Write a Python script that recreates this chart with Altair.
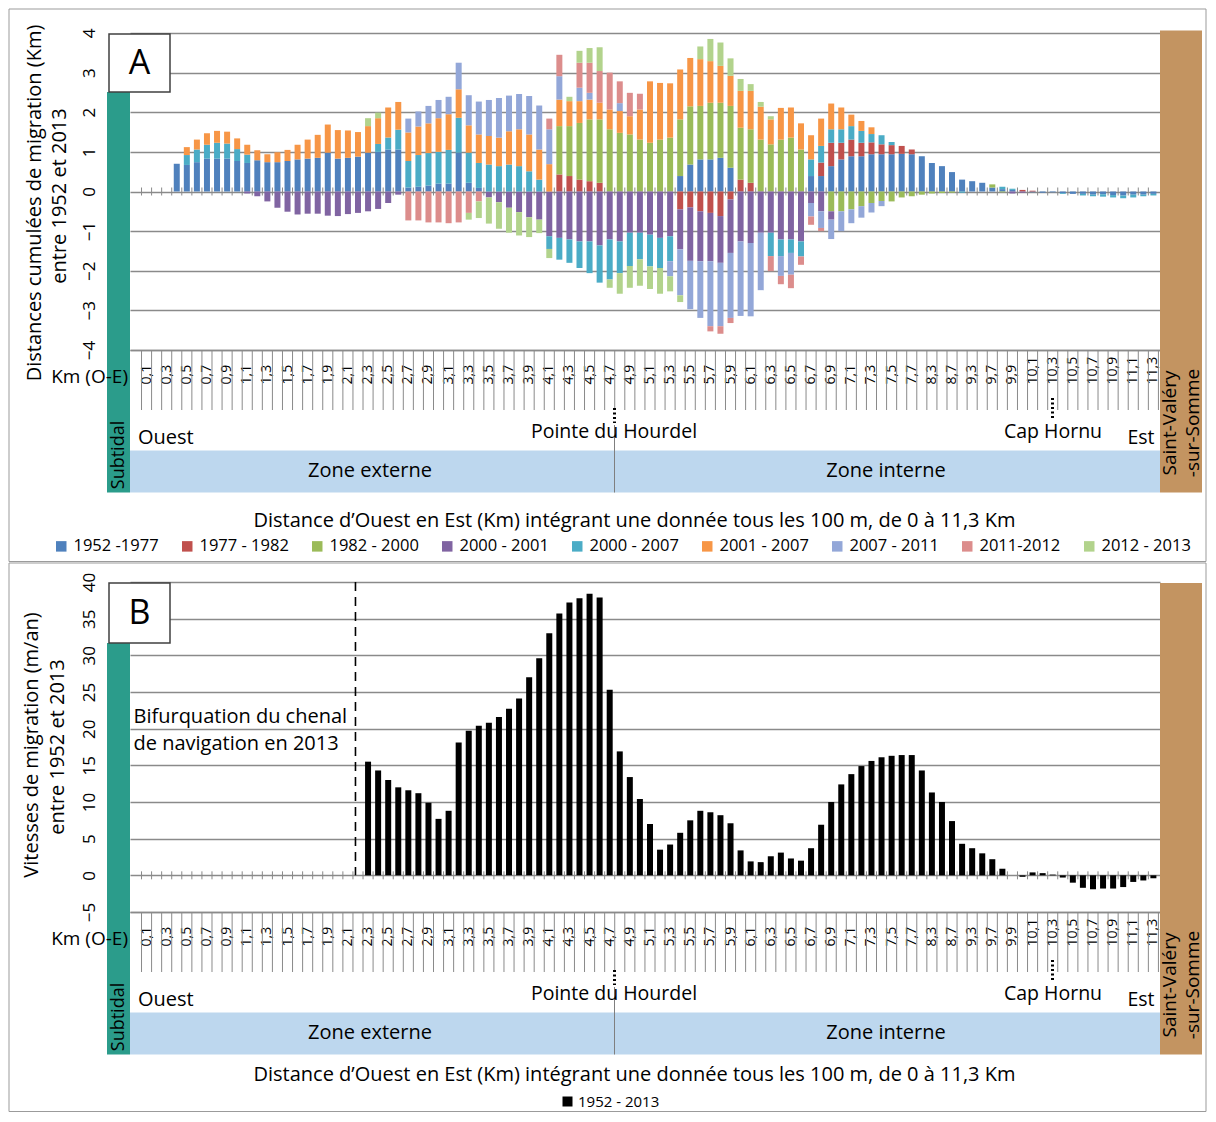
import json
import altair as alt
import pandas as pd

FONT = "Open Sans"
GRID = "#8a8a8a"
FRAME = "#9b9b9b"
TEAL = "#2b9c8b"
BROWN = "#c39461"
ZONE = "#bdd7ee"

# ---------------- categories ----------------
km_values = ([round(0.1 * i, 1) for i in range(1, 78)]
             + [7.9, 8.3, 8.5, 8.7, 9.0, 9.3, 9.5]
             + [round(9.7 + 0.1 * i, 1) for i in range(17)])
km_labels = [f"{v:.1f}".replace(".", ",") for v in km_values]
shown_labels = km_labels[::2]

series_names = ["1952 -1977", "1977 - 1982", "1982 - 2000", "2000 - 2001", "2000 - 2007",
                "2001 - 2007", "2007 - 2011", "2011-2012", "2012 - 2013"]
series_colors = ["#4F81BD", "#C0504D", "#9BBB59", "#8064A2", "#4BACC6",
                 "#F79646", "#93A7D8", "#DC8D8C", "#B2D38C"]

# ---------------- panel A values (Km) ----------------
s_1952_1977 = [0, 0, 0, 0.70, 0.67, 0.74, 0.83, 0.83, 0.83, 0.77,
               0.72, 0.79, 0.74, 0.74, 0.77, 0.81, 0.83, 0.85, 0.98, 0.83,
               0.85, 0.88, 0.98, 1.00, 1.06, 1.06, 0.10, 0.12, 0.15, 0.20,
               0.20, 0.98, 0.22, 0.09, 0, 0, 0, 0, 0, 0,
               0, 0, 0, 0, 0, 0, 0, 0, 0, 0,
               0, 0, 0, 0.39, 0.68, 0.81, 0.81, 0.85, 0.60, 0,
               0, 0, 0, 0, 0, 0, 0.39, 0.39, 0.64, 0.81,
               0.89, 0.89, 0.94, 0.94, 0.94, 0.95, 0.94, 0.89, 0.72, 0.64,
               0.49, 0.30, 0.26, 0.22, 0.10, 0.06, 0.04, 0, -0.02, -0.03,
               -0.02, -0.04, -0.06, -0.06, -0.08, -0.07, -0.09, -0.10, -0.08, -0.08,
               -0.06]
s_1977_1982 = [0, 0, 0, 0, 0, 0, 0, 0, 0, 0,
               0, 0, 0, 0, 0, 0, 0, 0, 0, 0,
               0, 0, 0, 0, 0, 0, 0, 0, 0, 0,
               0, 0, 0, 0, 0, 0, 0, 0, 0, 0,
               0, 0.43, 0.39, 0.30, 0.26, 0.22, 0, 0, 0, 0,
               0, 0, 0, -0.45, -0.40, -0.50, -0.54, -0.62, -0.20, 0.30,
               0.22, 0, 0, 0, 0, 0, 0, 0.34, 0.59, 0.42,
               0.42, 0.34, 0.30, 0.25, 0.23, 0.20, 0.12, 0, 0, 0,
               0, 0, 0, 0, 0, 0, 0, 0.04, 0.02, 0,
               0, 0, 0, 0, 0, 0, 0, 0, 0, 0,
               0]
s_1982_2000 = [0, 0, 0, 0, 0, 0, 0, 0, 0, 0,
               0, 0, 0, 0, 0, 0, 0, 0, 0, 0,
               0, 0, 0, 0, 0, 0, 0, 0, 0, 0,
               0, 0, 0, 0, 0, 0, 0, 0, 0, 0,
               0, 1.22, 1.26, 1.43, 1.56, 1.60, 1.57, 1.48, 1.44, 1.31,
               1.23, 1.31, 1.36, 1.43, 1.47, 1.35, 1.43, 1.39, 1.56, 1.31,
               1.35, 1.31, 1.19, 1.31, 1.36, 1.06, 0, 0, -0.50, -0.50,
               -0.45, -0.37, -0.29, -0.24, -0.25, -0.15, -0.12, -0.08, -0.05, -0.04,
               -0.03, 0, 0, 0, 0.08, -0.02, 0, 0, 0, 0,
               0, 0, 0, 0, 0, 0, 0, 0, 0, 0,
               0]
s_2000_2001 = [0, 0, 0, 0, 0, 0, 0, 0, 0, 0,
               -0.05, -0.12, -0.25, -0.41, -0.51, -0.58, -0.56, -0.56, -0.61, -0.62,
               -0.57, -0.54, -0.50, -0.44, -0.29, -0.08, 0, 0, 0, 0,
               0, 0, 0, 0, -0.15, -0.27, -0.41, -0.52, -0.65, -0.71,
               -1.13, -1.17, -1.21, -1.26, -1.26, -1.36, -1.21, -1.26, -1.04, -1.04,
               -1.09, -1.17, -1.13, -1.01, -1.35, -1.26, -1.22, -1.18, -1.35, -1.26,
               -1.30, -1.04, -1.04, -1.21, -1.21, -1.26, -0.29, -0.50, -0.21, 0,
               0, 0, 0, 0, 0, 0, 0, 0, 0, 0,
               0, 0, 0, 0, 0, 0, -0.05, -0.03, 0, 0,
               0, 0, 0, 0, 0, 0, 0, 0, 0, 0,
               0]
s_2000_2007 = [0, 0, 0, 0, 0.25, 0.32, 0.35, 0.40, 0.38, 0.30,
               0.21, 0, 0, 0, 0, 0, 0, 0, 0, 0,
               0, 0, 0, 0.20, 0.30, 0.50, 0.67, 0.80, 0.82, 0.80,
               0.85, 0.88, 0.76, 0.63, 0.68, 0.64, 0.68, 0.64, 0.51, 0.30,
               -0.32, -0.55, -0.59, -0.67, -0.80, -0.94, -1.01, -0.80, -0.84, -0.67,
               -0.80, -0.76, -0.63, 0, 0, 0, 0, 0, 0, 0,
               0, 0, -0.59, -0.42, -0.34, -0.38, 0.42, 0.42, 0.34, 0.34,
               0.34, 0.30, 0.21, 0.23, 0.08, 0, 0, 0, 0, 0,
               0, -0.03, 0, 0, 0, 0.06, 0.03, 0, 0, 0,
               0, -0.02, 0, -0.04, -0.04, -0.06, -0.06, -0.07, -0.07, -0.04,
               -0.04]
s_2001_2007 = [0, 0, 0, 0, 0.20, 0.25, 0.29, 0.30, 0.30, 0.27,
               0.25, 0.25, 0.20, 0.25, 0.28, 0.37, 0.48, 0.58, 0.71, 0.72,
               0.69, 0.62, 0.67, 0.65, 0.76, 0.70, 0.72, 0.72, 0.75, 0.85,
               0.90, 0.72, 0.69, 0.72, 0.72, 0.72, 0.84, 0.93, 0.93, 0.76,
               0.69, 0.67, 0.63, 0.55, 0.50, 0.42, 0.50, 0.55, 0.46, 0.76,
               1.55, 1.43, 1.37, 1.26, 1.22, 1.18, 1.05, 0.93, 0.76, 0.93,
               0.97, 0.83, 0.63, 0.80, 0.76, 0.66, 0.61, 0.69, 0.65, 0.55,
               0.29, 0.25, 0.17, 0, 0, 0, 0, 0, 0, 0,
               0, 0, 0, 0, 0, 0, 0, 0, 0, 0,
               0, 0, 0, 0, 0, 0, 0, 0, 0, 0,
               0]
s_2007_2011 = [0, 0, 0, 0, 0, 0, 0, 0, 0, 0,
               0, 0, 0, 0, 0, 0, 0, 0, 0, 0,
               0, 0, 0, 0, 0, 0, 0.35, 0.38, 0.44, 0.46,
               0.44, 0.67, 0.76, 0.83, 0.91, 1.00, 0.90, 0.89, 0.97, 1.11,
               0.88, 0.59, 0, 0.34, 0.17, 0, 0, 0.20, 0, 0,
               0, 0, -0.38, -1.16, -1.22, -1.43, -1.64, -1.60, -1.64, -1.88,
               -1.85, -1.45, 0, -0.50, -0.55, 0, -0.34, -0.42, -0.49, -0.50,
               -0.35, -0.29, -0.24, -0.13, 0, 0, 0, 0, 0, 0,
               0, 0, 0, 0, 0, 0, 0, 0, 0, 0,
               0, 0, 0, 0, 0, 0, 0, 0, 0, 0,
               0]
s_2011_2012 = [0, 0, 0, 0, 0, 0, 0, 0, 0, 0,
               0, 0, 0, 0, 0, 0, 0, 0, 0, 0,
               0, 0, 0, 0, 0, 0, -0.73, -0.73, -0.78, -0.78,
               -0.80, -0.78, -0.54, -0.25, 0, 0, 0, 0, 0, 0,
               0.27, 0.54, 0, 0.63, 0.76, 0.80, 0.93, 0.55, 0.59, 0.40,
               0, 0, 0, 0, 0, 0, -0.13, -0.19, -0.13, 0,
               0, 0, -0.38, -0.21, -0.34, -0.21, -0.21, -0.08, 0, 0,
               0, 0, 0, 0, 0, 0, 0, 0, 0, 0,
               0, 0, 0, 0, 0, 0, 0, 0, 0, 0,
               0, 0, 0, 0, 0, 0, 0, 0, 0, 0,
               0]
s_2012_2013 = [0, 0, 0, 0, 0, 0, 0, 0, 0, 0,
               0, 0, 0, 0, 0, 0, 0, 0, 0, 0,
               0, 0, 0.20, 0.14, 0, 0, 0, 0, 0, 0,
               0, 0, -0.17, -0.42, -0.66, -0.67, -0.63, -0.59, -0.50, -0.34,
               -0.23, 0, 0.11, 0.30, 0.37, 0.60, -0.21, -0.52, -0.55, -0.67,
               -0.57, -0.65, -0.38, -0.17, 0, 0.32, 0.56, 0.59, 0.44, 0.30,
               0.17, 0.12, 0.08, 0, 0, 0, 0, 0, 0, 0,
               0, 0, 0, 0, 0, 0, 0, 0, 0, 0,
               0, 0, 0, 0, 0, 0, 0, 0, 0, 0,
               0, 0, 0, 0, 0, 0, 0, 0, 0, 0,
               0]

# ---------------- panel B values (m/an) ----------------
vitesse_1952_2013 = [0, 0, 0, 0, 0, 0, 0, 0, 0, 0,
                     0, 0, 0, 0, 0, 0, 0, 0, 0, 0,
                     0, 0, 15.5, 14.3, 13.0, 12.0, 11.6, 11.2, 9.9, 7.7,
                     8.8, 18.1, 19.7, 20.4, 20.8, 21.6, 22.7, 24.1, 27.0, 29.6,
                     33.0, 35.7, 37.2, 37.8, 38.4, 37.9, 25.3, 16.9, 13.4, 10.4,
                     7.0, 3.5, 4.2, 5.8, 7.5, 8.8, 8.6, 8.2, 7.1, 3.4,
                     1.9, 1.8, 2.6, 3.1, 2.3, 2.0, 3.7, 6.9, 10.0, 12.4,
                     13.8, 14.9, 15.6, 16.1, 16.3, 16.4, 16.4, 14.3, 11.3, 10.0,
                     7.4, 4.3, 3.7, 3.0, 2.2, 0.9, 0.0, -0.2, 0.4, 0.3,
                     0.1, -0.3, -1.0, -1.7, -1.9, -1.8, -1.8, -1.6, -0.9, -0.7,
                     -0.4]

series_values = [s_1952_1977, s_1977_1982, s_1982_2000, s_2000_2001, s_2000_2007,
                 s_2001_2007, s_2007_2011, s_2011_2012, s_2012_2013]
for vals in series_values + [vitesse_1952_2013]:
    assert len(vals) == len(km_labels)

rows = []
for k, (name, vals) in enumerate(zip(series_names, series_values)):
    for km, v in zip(km_labels, vals):
        rows.append({"km": km, "series": name, "value": v, "ord": k})
dfA = pd.DataFrame(rows)
dfB = pd.DataFrame({"km": km_labels, "series": "1952 - 2013", "value": vitesse_1952_2013})
dfcat = pd.DataFrame({"km": km_labels, "zero": 0})
dflast = pd.DataFrame({"km": [km_labels[-1]]})
one = pd.DataFrame({"k": [0]})

W = 1030
HA, HB = 317, 330

X_AXIS = alt.Axis(
    title=None,
    labelExpr="indexof(%s, datum.value) >= 0 ? datum.label : ''" % json.dumps(shown_labels),
    labelAngle=270, labelAlign="left", labelBaseline="middle", labelPadding=34,
    ticks=False, domain=True, domainColor=GRID, domainWidth=1.5, grid=False,
    labelFont=FONT, labelFontSize=14, labelColor="black",
    labelOverlap=False, labelFlush=False, labelBound=False,
)


def xdef(band=None):
    kw = dict(sort=km_labels,
              scale=alt.Scale(domain=km_labels, paddingInner=0, paddingOuter=0.65, align=0.88),
              axis=X_AXIS)
    if band is not None:
        kw["bandPosition"] = band
    return alt.X("km:N", **kw)


def yaxis(values):
    return alt.Axis(values=values, title=None, grid=True, gridColor=GRID, gridWidth=1.5,
                    ticks=False, domain=False, labelAngle=270, labelAlign="center",
                    labelBaseline="bottom", labelPadding=32, labelFont=FONT,
                    labelFontSize=17, labelColor="black", labelFlush=False)


def text(s, x, y, size=18, angle=0, align="center", baseline="middle"):
    return alt.Chart(one).mark_text(text=s, font=FONT, fontSize=size, angle=angle, align=align,
                                    baseline=baseline, color="black").encode(
        x=alt.value(x), y=alt.value(y))


def rect(x1, x2, y1, y2, fill, stroke=None, sw=0, opacity=1):
    kw = dict(fill=fill, fillOpacity=opacity)
    if stroke:
        kw.update(stroke=stroke, strokeWidth=sw)
    return alt.Chart(one).mark_rect(**kw).encode(
        x=alt.value(x1), x2=alt.value(x2), y=alt.value(y1), y2=alt.value(y2))


def rule(x1, y1, x2, y2, color, width, dash=None):
    kw = dict(color=color, strokeWidth=width)
    if dash:
        kw["strokeDash"] = dash
    return alt.Chart(one).mark_rule(**kw).encode(
        x=alt.value(x1), y=alt.value(y1), x2=alt.value(x2), y2=alt.value(y2))


def common_layers(H, letter, frame_top, frame_bottom, box_bottom, brown_top, ytitle, yt_pos,
                  xtitle_y, km_x, yscale, yax):
    layers = [
        rect(-121, 1076, frame_top, frame_bottom, "white", FRAME, 1, opacity=0),
        # zone bar
        rect(0, W, H + 100.5, H + 142.5, ZONE),
        rule(484.5, H + 75, 484.5, H + 142.5, "#7f7f7f", 1),
        # subtidal / brown boxes
        rect(-23, 0, box_bottom, H + 142.5, TEAL),
        rect(W, 1072, brown_top, H + 142.5, BROWN),
        # long category ticks below axis
        alt.Chart(dfcat).mark_rule(color=GRID, strokeWidth=1).encode(
            x=xdef(0), y=alt.value(H), y2=alt.value(H + 60)),
        alt.Chart(dflast).mark_rule(color=GRID, strokeWidth=1).encode(
            x=xdef(1), y=alt.value(H), y2=alt.value(H + 60)),
        # ticks on zero line
        alt.Chart(dfcat).mark_rule(color=GRID, strokeWidth=1, yOffset=-4, y2Offset=4).encode(
            x=xdef(0), y=alt.Y("zero:Q", scale=yscale, axis=yax), y2="zero:Q"),
        # dotted markers
        rule(484.5, H + 58, 484.5, H + 73, "black", 3, [2, 2.5]),
        rule(922.5, H + 48, 922.5, H + 70, "black", 3, [2, 2.5]),
        # texts
        text("Km (O-E)", km_x, H + 27, 19, align="right"),
        text("Subtidal", -11.5, H + 105, 18, angle=270),
        text("Ouest", 8, H + 88, 20, align="left"),
        text("Pointe du Hourdel", 484, H + 82, 19.5),
        text("Cap Hornu", 923, H + 82, 19.5),
        text("Est", 1011, H + 88, 19.5),
        text("Zone externe", 240, H + 121, 20),
        text("Zone interne", 756, H + 121, 20),
        text("Saint-Valéry", 1040, H + 73, 19, angle=270),
        text("-sur-Somme", 1063, H + 73, 19, angle=270),
        text("Distance d\u2019Ouest en Est (Km) int\u00e9grant une donn\u00e9e tous les 100 m, de 0 \u00e0 11,3 Km",
             504.5, xtitle_y, 20),
        text(ytitle[0], yt_pos[0][0], yt_pos[0][1], 20, angle=270),
        text(ytitle[1], yt_pos[1][0], yt_pos[1][1], 20, angle=270),
        # letter box
        rect(-21, 40, 1, box_bottom, "white", "#404040", 1.5),
        text(letter, 9.5, (1 + box_bottom) / 2 + 1, 34),
    ]
    return layers


# ---------------- Panel A ----------------
yscaleA = alt.Scale(domain=[-4, 4], nice=False, zero=False)
yaxA = yaxis(list(range(-4, 5)))

barsA = alt.Chart(dfA).mark_bar(size=6).encode(
    x=xdef(),
    y=alt.Y("value:Q", stack="zero", scale=yscaleA, axis=yaxA),
    color=alt.Color("series:N", scale=alt.Scale(domain=series_names, range=series_colors),
                    legend=alt.Legend(title=None, orient="none", legendX=-77, legendY=HA + 188,
                                      direction="horizontal", columns=9, symbolType="square",
                                      symbolSize=110, symbolStrokeWidth=0, labelFont=FONT,
                                      labelFontSize=16.5, labelColor="black", columnPadding=20,
                                      labelOffset=4, labelLimit=300)),
    order=alt.Order("ord:Q", sort="ascending"),
)

layersA = common_layers(HA, "A", -24, 528.5, 59, -2.5,
                        ["Distances cumul\u00e9es de migration (Km)", "entre 1952 et 2013"],
                        [(-95.5, 170), (-70.5, 163)], HA + 170.5, -2, yscaleA, yaxA)
panelA = alt.layer(*(layersA[:5] + [barsA] + layersA[5:])).properties(width=W, height=HA)

# ---------------- Panel B ----------------
yscaleB = alt.Scale(domain=[-5, 40], nice=False, zero=False)
yaxB = yaxis(list(range(-5, 41, 5)))

barsB = alt.Chart(dfB).mark_bar(size=6).encode(
    x=xdef(),
    y=alt.Y("value:Q", scale=yscaleB, axis=yaxB),
    color=alt.Color("series:N", scale=alt.Scale(domain=["1952 - 2013"], range=["#000000"]),
                    legend=alt.Legend(title=None, orient="none", legendX=430, legendY=HB + 182,
                                      direction="horizontal", symbolType="square",
                                      symbolSize=100, symbolStrokeWidth=0, labelFont=FONT,
                                      labelFontSize=15, labelColor="black", labelOffset=3)),
)

dfDash = pd.DataFrame({"km": [km_labels[21]], "top": [40], "bot": [0]})
dash = alt.Chart(dfDash).mark_rule(color="black", strokeWidth=1.6, strokeDash=[9, 6]).encode(
    x=xdef(0.25), y=alt.Y("top:Q", scale=yscaleB, axis=yaxB), y2="bot:Q")

layersB = common_layers(HB, "B", -19, 529.5, 61, 1,
                        ["Vitesses de migration (m/an)", "entre 1952 et 2013"],
                        [(-98.5, 163), (-72.5, 165)], HB + 163, -2, yscaleB, yaxB)
layersB += [
    text("Bifurquation du chenal", 3.5, 135, 20, align="left"),
    text("de navigation en 2013", 3.5, 162, 20, align="left"),
    dash,
]
panelB = alt.layer(*(layersB[:5] + [barsB] + layersB[5:])).properties(width=W, height=HB)

chart = alt.vconcat(panelA, panelB, spacing=232, bounds="flush").resolve_scale(
    x="independent", y="independent", color="independent"
).resolve_legend(color="independent").properties(padding=0).configure_view(stroke=None)

chart.save("out.html", embed_options={"renderer": "svg", "actions": False})
